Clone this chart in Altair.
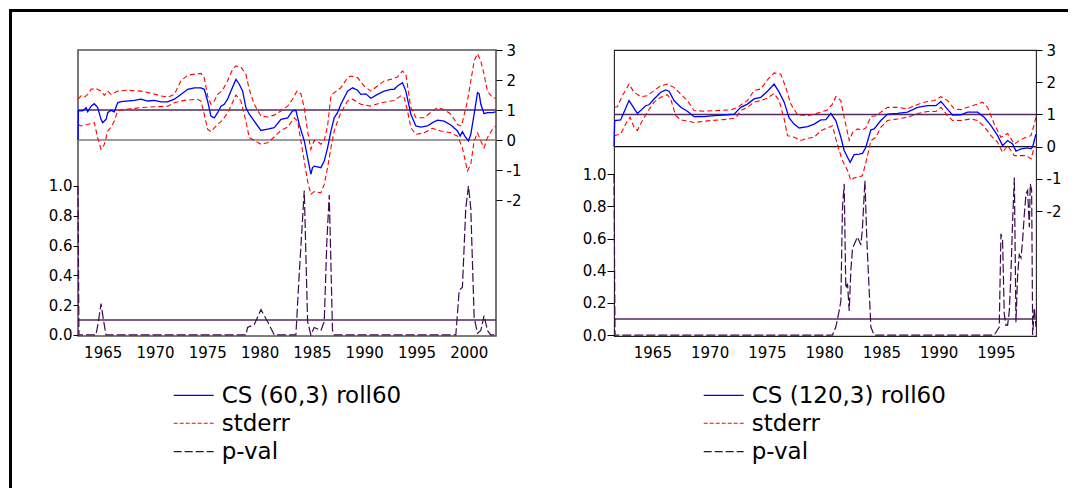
import altair as alt
import pandas as pd

FONT = "DejaVu Sans"

# ---------------- Left panel: CS (60,3) roll60 ----------------
L_cs_year = [1962.64, 1962.68, 1963.09, 1963.41, 1963.57, 1963.89, 1964.20, 1964.52, 1964.84, 1965.00,
             1965.32, 1965.48, 1965.80, 1966.11, 1966.43, 1966.75, 1968.03, 1968.66, 1969.30, 1969.94,
             1970.57, 1971.21, 1971.85, 1972.48, 1973.12, 1973.76, 1974.39, 1974.71, 1975.03, 1975.35,
             1975.67, 1975.99, 1976.31, 1976.62, 1976.94, 1977.26, 1977.74, 1978.06, 1978.38, 1978.69,
             1979.01, 1979.49, 1980.13, 1980.76, 1981.40, 1982.04, 1982.68, 1983.15, 1983.47, 1983.79,
             1984.27, 1984.59, 1984.90, 1985.06, 1985.22, 1985.86, 1986.18, 1986.50, 1986.82, 1987.13,
             1987.45, 1987.77, 1988.41, 1988.89, 1989.36, 1989.68, 1990.16, 1990.64, 1991.27, 1991.91,
             1992.55, 1992.87, 1993.18, 1993.66, 1993.98, 1994.46, 1994.94, 1995.41, 1996.05, 1996.53,
             1997.01, 1997.64, 1998.28, 1998.92, 1999.17, 1999.39, 1999.62, 1999.97, 2000.19, 2000.51,
             2000.83, 2000.99, 2001.15, 2001.46, 2001.78, 2002.26, 2002.58]
L_cs_val = [0.00, 0.97, 0.97, 1.08, 0.94, 1.13, 1.21, 1.08, 0.69, 0.58,
            0.69, 0.91, 0.99, 0.94, 1.24, 1.28, 1.32, 1.36, 1.30, 1.32,
            1.27, 1.27, 1.36, 1.52, 1.69, 1.74, 1.74, 1.69, 1.30, 0.80,
            0.74, 0.91, 1.13, 1.19, 1.36, 1.63, 2.02, 1.86, 1.63, 1.08,
            0.86, 0.63, 0.32, 0.36, 0.41, 0.69, 0.74, 0.97, 0.99, 0.52,
            -0.03, -0.59, -1.14, -0.92, -0.87, -0.92, -0.70, -0.26, 0.30, 0.74,
            0.91, 1.19, 1.63, 1.74, 1.66, 1.52, 1.54, 1.39, 1.52, 1.63,
            1.69, 1.69, 1.80, 1.91, 1.63, 0.86, 0.47, 0.43, 0.47, 0.58,
            0.66, 0.63, 0.50, 0.30, 0.13, 0.28, 0.13, -0.03, 0.19, 0.86,
            1.58, 1.54, 1.19, 0.88, 0.91, 0.91, 0.94]

L_up_year = [1962.64, 1962.93, 1963.25, 1963.57, 1963.89, 1964.36, 1964.84, 1965.16, 1965.48, 1965.80,
             1966.43, 1967.39, 1968.66, 1969.62, 1970.57, 1971.21, 1971.85, 1972.48, 1973.12, 1974.08,
             1974.39, 1974.71, 1975.03, 1975.35, 1975.67, 1975.99, 1976.46, 1976.94, 1977.42, 1977.74,
             1978.22, 1978.69, 1979.01, 1979.49, 1980.13, 1980.76, 1981.40, 1982.04, 1982.68, 1983.15,
             1983.57, 1983.95, 1984.27, 1984.59, 1984.90, 1985.22, 1985.70, 1985.86, 1986.18, 1986.50,
             1986.82, 1987.13, 1987.77, 1988.41, 1988.73, 1989.36, 1990.00, 1990.64, 1991.27, 1991.91,
             1992.55, 1993.18, 1993.66, 1993.98, 1994.46, 1994.94, 1995.73, 1996.53, 1997.01, 1997.64,
             1998.28, 1998.92, 1999.30, 1999.87, 2000.51, 2000.83, 2001.15, 2001.46, 2001.78, 2002.26,
             2002.58]
L_up_val = [1.36, 1.47, 1.43, 1.52, 1.69, 1.72, 1.63, 1.49, 1.63, 1.52,
            1.63, 1.66, 1.63, 1.56, 1.47, 1.43, 1.52, 1.97, 2.16, 2.21,
            2.22, 2.08, 1.47, 1.19, 1.30, 1.52, 1.66, 1.97, 2.36, 2.47,
            2.43, 2.19, 1.69, 1.19, 0.80, 0.77, 0.83, 0.97, 1.13, 1.36,
            1.63, 1.54, 1.08, 0.30, -0.31, -0.01, -0.09, -0.14, -0.01, 0.47,
            1.47, 1.58, 1.74, 2.08, 2.13, 2.08, 1.80, 1.63, 1.80, 1.97,
            2.02, 2.10, 2.30, 2.19, 1.08, 0.74, 0.74, 0.97, 1.08, 1.02,
            0.86, 0.52, 0.47, 1.30, 2.63, 2.88, 2.63, 2.19, 1.63, 1.41,
            1.39]

L_lo_year = [1962.64, 1962.93, 1963.57, 1964.20, 1964.52, 1964.84, 1965.16, 1965.48, 1965.80, 1966.11,
             1966.43, 1967.07, 1968.66, 1969.62, 1971.21, 1971.85, 1972.80, 1974.08, 1974.39, 1974.71,
             1975.03, 1975.35, 1975.99, 1976.46, 1976.94, 1977.26, 1977.74, 1978.22, 1978.69, 1979.01,
             1979.49, 1980.13, 1980.76, 1981.40, 1982.04, 1982.68, 1983.31, 1983.63, 1983.95, 1984.27,
             1984.59, 1984.90, 1985.22, 1985.86, 1986.18, 1986.50, 1986.82, 1987.13, 1987.45, 1987.77,
             1988.41, 1988.89, 1989.68, 1990.64, 1991.59, 1992.87, 1993.50, 1993.82, 1994.14, 1994.46,
             1994.94, 1995.73, 1996.53, 1997.32, 1998.28, 1998.92, 1999.39, 1999.87, 2000.19, 2000.51,
             2000.83, 2001.15, 2001.46, 2001.78, 2002.26, 2002.58]
L_lo_val = [0.52, 0.47, 0.52, 0.58, 0.08, -0.31, -0.14, 0.30, 0.43, 0.63,
            0.97, 1.02, 1.08, 1.10, 1.13, 1.24, 1.32, 1.36, 1.30, 0.86,
            0.36, 0.28, 0.52, 0.66, 0.91, 1.13, 1.50, 1.30, 0.63, 0.08,
            -0.01, -0.14, -0.09, 0.10, 0.32, 0.43, 0.74, 0.63, -0.03, -0.70,
            -1.37, -1.81, -1.72, -1.76, -1.48, -0.92, -0.26, 0.30, 0.63, 0.91,
            1.30, 1.36, 1.19, 1.13, 1.24, 1.32, 1.47, 1.41, 0.97, 0.41,
            0.19, 0.24, 0.39, 0.30, 0.24, 0.13, -0.26, -1.03, -0.81, -0.03,
            0.24, -0.03, -0.26, 0.08, 0.36, 0.47]

L_p_year = [1962.64, 1962.73, 1964.36, 1964.59, 1964.84, 1965.10, 1965.32, 1978.69, 1978.85, 1979.49,
            1980.13, 1980.76, 1981.40, 1983.47, 1983.79, 1984.27, 1984.59, 1984.90, 1985.22, 1985.86,
            1986.18, 1986.43, 1986.66, 1986.97, 1987.13, 1998.76, 1999.08, 1999.39, 1999.71, 1999.97,
            2000.19, 2000.51, 2000.83, 2001.15, 2001.46, 2001.78, 2002.10, 2002.58]
L_p_val = [1.00, 0.00, 0.00, 0.09, 0.21, 0.09, 0.00, 0.00, 0.05, 0.07,
           0.17, 0.09, 0.00, 0.00, 0.41, 0.97, 0.09, 0.00, 0.05, 0.03,
           0.09, 0.63, 0.94, 0.03, 0.00, 0.00, 0.30, 0.32, 0.85, 1.00,
           0.85, 0.12, 0.01, 0.03, 0.13, 0.03, 0.00, 0.00]

# ---------------- Right panel: CS (120,3) roll60 ----------------
R_cs_year = [1961.65, 1961.71, 1962.23, 1962.52, 1962.96, 1963.25, 1963.69, 1963.98, 1964.42, 1964.71,
             1965.15, 1965.73, 1966.17, 1966.46, 1966.89, 1967.48, 1968.06, 1968.64, 1969.52, 1970.39,
             1971.55, 1972.14, 1972.72, 1973.30, 1973.88, 1974.47, 1975.05, 1975.63, 1976.07, 1976.51,
             1976.94, 1977.38, 1977.82, 1978.55, 1979.13, 1979.71, 1980.15, 1980.58, 1981.02, 1981.46,
             1981.75, 1982.04, 1982.27, 1982.62, 1983.06, 1983.35, 1983.64, 1984.08, 1984.37, 1984.95,
             1985.54, 1986.41, 1987.28, 1988.16, 1989.03, 1989.76, 1990.20, 1990.63, 1991.22, 1991.94,
             1992.53, 1993.40, 1993.98, 1994.57, 1995.15, 1995.58, 1996.02, 1996.46, 1996.75, 1997.19,
             1997.77, 1998.06, 1998.21, 1998.35, 1998.50]
R_cs_val = [0.00, 0.81, 0.83, 1.07, 1.43, 1.27, 1.03, 1.12, 1.27, 1.30,
            1.48, 1.69, 1.76, 1.72, 1.43, 1.22, 1.10, 0.93, 0.93, 0.96,
            0.99, 1.01, 1.22, 1.32, 1.48, 1.53, 1.72, 1.94, 1.69, 1.38,
            0.89, 0.70, 0.58, 0.62, 0.70, 0.83, 0.84, 1.03, 0.81, 0.29,
            -0.12, -0.33, -0.49, -0.25, -0.23, -0.21, -0.02, 0.52, 0.55, 0.81,
            1.01, 1.03, 1.07, 1.22, 1.27, 1.27, 1.40, 1.22, 0.98, 0.99,
            1.07, 1.07, 0.91, 0.65, 0.34, 0.03, 0.19, 0.08, -0.14, -0.07,
            -0.04, -0.07, 0.00, 0.19, 0.39]

R_up_year = [1961.65, 1961.94, 1962.38, 1962.96, 1963.40, 1963.98, 1964.56, 1965.15, 1965.73, 1966.31,
             1966.89, 1967.48, 1968.06, 1968.64, 1969.52, 1970.68, 1971.85, 1972.43, 1973.30, 1973.88,
             1974.47, 1975.05, 1975.63, 1976.21, 1976.65, 1977.09, 1977.67, 1978.55, 1979.42, 1980.29,
             1980.73, 1981.02, 1981.46, 1981.75, 1982.19, 1982.48, 1982.91, 1983.35, 1983.64, 1984.08,
             1984.52, 1984.95, 1985.54, 1986.41, 1987.28, 1987.87, 1988.74, 1989.61, 1990.20, 1990.78,
             1991.36, 1991.94, 1992.53, 1993.40, 1993.84, 1994.27, 1994.86, 1995.44, 1996.02, 1996.61,
             1997.04, 1997.63, 1998.06, 1998.35, 1998.50]
R_up_val = [1.22, 1.24, 1.58, 1.94, 1.69, 1.55, 1.58, 1.74, 1.89, 1.94,
            1.84, 1.63, 1.43, 1.12, 1.10, 1.12, 1.14, 1.22, 1.43, 1.74,
            1.79, 2.07, 2.29, 2.25, 1.84, 1.32, 0.99, 0.96, 1.04, 1.14,
            1.32, 1.55, 1.43, 0.91, 0.19, 0.44, 0.55, 0.52, 0.58, 0.93,
            0.96, 1.07, 1.22, 1.22, 1.17, 1.27, 1.38, 1.43, 1.55, 1.43,
            1.17, 1.15, 1.22, 1.32, 1.38, 1.22, 0.70, 0.29, 0.41, 0.08,
            0.19, 0.29, 0.34, 0.70, 0.93]

R_lo_year = [1961.65, 1962.23, 1962.67, 1963.05, 1963.40, 1963.69, 1964.13, 1964.56, 1965.15, 1965.73,
             1966.31, 1966.60, 1967.04, 1967.48, 1968.64, 1970.10, 1971.55, 1972.28, 1972.72, 1973.30,
             1973.88, 1974.47, 1975.05, 1975.63, 1976.07, 1976.51, 1976.80, 1977.38, 1977.96, 1978.55,
             1979.13, 1979.71, 1980.29, 1980.73, 1981.02, 1981.31, 1981.60, 1982.04, 1982.33, 1982.62,
             1983.06, 1983.35, 1983.79, 1984.08, 1984.52, 1984.95, 1985.54, 1986.41, 1987.28, 1988.16,
             1989.03, 1989.76, 1990.20, 1990.78, 1991.22, 1991.94, 1992.82, 1993.40, 1993.98, 1994.57,
             1995.15, 1995.58, 1996.02, 1996.61, 1997.04, 1997.63, 1998.06, 1998.35, 1998.50]
R_lo_val = [0.34, 0.39, 0.70, 0.91, 0.60, 0.50, 0.81, 1.07, 1.38, 1.53,
            1.61, 1.48, 0.96, 0.83, 0.75, 0.81, 0.85, 0.89, 1.12, 1.22,
            1.38, 1.43, 1.51, 1.65, 1.43, 0.86, 0.34, 0.29, 0.19, 0.26,
            0.29, 0.50, 0.58, 0.65, 0.24, -0.12, -0.43, -0.74, -1.05, -0.97,
            -0.95, -0.90, -0.28, 0.19, 0.29, 0.60, 0.81, 0.86, 0.91, 1.03,
            1.09, 1.09, 1.22, 0.96, 0.81, 0.81, 0.86, 0.81, 0.62, 0.34,
            0.13, -0.18, 0.03, -0.28, -0.28, -0.28, -0.38, -0.02, 0.00]

R_p_year = [1961.65, 1961.74, 1980.73, 1981.02, 1981.31, 1981.46, 1981.60, 1981.75, 1981.89, 1982.04,
            1982.19, 1982.33, 1982.48, 1982.91, 1983.21, 1983.35, 1983.56, 1983.73, 1984.08, 1984.37,
            1994.86, 1995.29, 1995.44, 1995.58, 1995.73, 1995.88, 1996.02, 1996.17, 1996.31, 1996.46,
            1996.61, 1996.75, 1996.90, 1997.04, 1997.19, 1997.33, 1997.48, 1997.63, 1997.77, 1997.92,
            1998.00, 1998.12, 1998.21, 1998.35, 1998.50]
R_p_val = [1.00, 0.00, 0.00, 0.05, 0.15, 0.21, 0.79, 0.94, 0.29, 0.32,
           0.15, 0.40, 0.54, 0.61, 0.56, 0.67, 0.96, 0.59, 0.05, 0.00,
           0.00, 0.05, 0.63, 0.59, 0.13, 0.06, 0.06, 0.15, 0.38, 0.71,
           0.98, 0.08, 0.38, 0.50, 0.48, 0.59, 0.75, 0.88, 0.90, 0.67,
           0.94, 0.90, 0.00, 0.17, 0.05]

CS_TICKS = [-2, -1, 0, 1, 2, 3]
P_TICKS = [0.0, 0.2, 0.4, 0.6, 0.8, 1.0]
LEGEND_LABELS = ["stderr", "p-val"]

BLUE = "#0000ff"
RED = "#ff0000"
PURPLE = "#3c0a4e"
RULE_PURPLE = "#502a62"


def df(xs, ys):
    return pd.DataFrame({"year": xs, "v": ys})


def one():
    return pd.DataFrame({"k": [0]})


def vrule(x1, x2, y, color, width, dash=None):
    kw = dict(color=color, strokeWidth=width)
    if dash:
        kw["strokeDash"] = dash
    return alt.Chart(one()).mark_rule(**kw).encode(
        x=alt.value(x1), x2=alt.value(x2), y=alt.value(y))


def vbox(x1, x2, y1, y2):
    return alt.Chart(one()).mark_rect(color="black").encode(
        x=alt.value(x1), x2=alt.value(x2), y=alt.value(y1), y2=alt.value(y2))


def vtext(x, y, label):
    return alt.Chart(one()).mark_text(
        align="left", baseline="alphabetic", font=FONT, fontSize=23, color="black"
    ).encode(x=alt.value(x), y=alt.value(y), text=alt.value(label))


def panel(W, xdom, xticks, csdom, pdom, cs, up, lo, pv, title, zero_color, zero_w,
          frame_color, frame_w, leg_x, ptick, border):
    X = alt.X("year:Q", scale=alt.Scale(domain=xdom, nice=False, zero=False),
              axis=alt.Axis(values=xticks, format="d", title=None, grid=False,
                            ticks=False, tickSize=0, domain=False, labelPadding=9,
                            labelFlush=False, labelOverlap=False))
    cs_scale = alt.Scale(domain=csdom, nice=False, zero=False)
    p_scale = alt.Scale(domain=pdom, nice=False, zero=False)
    cs_axis = alt.Axis(orient="right", values=CS_TICKS, title=None, grid=False,
                       domain=False, tickSize=6, labelPadding=4,
                       labelExpr="'' + datum.value", labelOverlap=False)
    p_axis = alt.Axis(orient="left", values=P_TICKS, format=".1f", title=None,
                      grid=False, domain=False, tickSize=ptick, labelPadding=1,
                      labelOverlap=False)

    layers = []
    # horizontal reference lines
    layers.append(alt.Chart(one()).mark_rule(
        color=RULE_PURPLE, strokeWidth=1.5).encode(
        y=alt.YDatum(1, type="quantitative", scale=cs_scale, axis=None)))
    layers.append(alt.Chart(one()).mark_rule(
        color=zero_color, strokeWidth=zero_w).encode(
        y=alt.YDatum(0, type="quantitative", scale=cs_scale, axis=None)))
    layers.append(alt.Chart(one()).mark_rule(
        color=RULE_PURPLE, strokeWidth=1.5).encode(
        y=alt.YDatum(0.1, type="quantitative", scale=p_scale, axis=None)))
    # p-value
    layers.append(alt.Chart(df(*pv)).mark_line(
        color=PURPLE, strokeWidth=1.2, strokeDash=[9, 3]).encode(
        x=X, y=alt.Y("v:Q", scale=p_scale, axis=p_axis)))
    # stderr bands
    layers.append(alt.Chart(df(*up)).mark_line(
        color=RED, strokeWidth=1.1, strokeDash=[5, 3]).encode(
        x=X, y=alt.Y("v:Q", scale=cs_scale, axis=None)))
    layers.append(alt.Chart(df(*lo)).mark_line(
        color=RED, strokeWidth=1.1, strokeDash=[5, 3]).encode(
        x=X, y=alt.Y("v:Q", scale=cs_scale, axis=None)))
    # CS estimate
    layers.append(alt.Chart(df(*cs)).mark_line(
        color=BLUE, strokeWidth=1.3).encode(
        x=X, y=alt.Y("v:Q", scale=cs_scale, axis=cs_axis)))

    # legend (drawn below the plot)
    layers += [
        vrule(leg_x, leg_x + 40, 345.3, BLUE, 1.2),
        vrule(leg_x, leg_x + 40, 373.3, RED, 1.1, [4, 2]),
        vrule(leg_x, leg_x + 40, 401.7, PURPLE, 1.2, [8, 3]),
        vtext(leg_x + 48, 353, title),
        vtext(leg_x + 48, 381, LEGEND_LABELS[0]),
        vtext(leg_x + 48, 408.5, LEGEND_LABELS[1]),
    ]
    if border:
        layers += [
            vbox(-69, 990, -41, -38),
            vbox(-69, -66, -41, 438),
        ]

    return alt.layer(*layers).resolve_scale(y="independent").properties(
        width=W, height=286,
        view=alt.ViewBackground(stroke=frame_color, strokeWidth=frame_w))


left = panel(418, [1962.64, 2002.6], [1965, 1970, 1975, 1980, 1985, 1990, 1995, 2000],
             [-6.53, 3], [-0.007, 1.913],
             (L_cs_year, L_cs_val), (L_up_year, L_up_val), (L_lo_year, L_lo_val),
             (L_p_year, L_p_val), "CS (60,3) roll60", "#7a7a7a", 1.6, "#555555", 1.6,
             95.7, 5, True)
right = panel(422, [1961.65, 1998.5], [1965, 1970, 1975, 1980, 1985, 1990, 1995],
              [-5.88, 3], [-0.006, 1.773],
              (R_cs_year, R_cs_val), (R_up_year, R_up_val), (R_lo_year, R_lo_val),
              (R_p_year, R_p_val), "CS (120,3) roll60", "#111111", 1.1, "#222222", 1.1,
              89.7, 7, False)

chart = alt.hconcat(left, right, spacing=118, bounds="flush").properties(
    padding=0, background="white"
).configure_axis(
    labelFont=FONT, labelFontSize=15, labelColor="black", tickColor="black", tickWidth=1
)

chart.save("out.html", embed_options={"renderer": "svg", "actions": False})
